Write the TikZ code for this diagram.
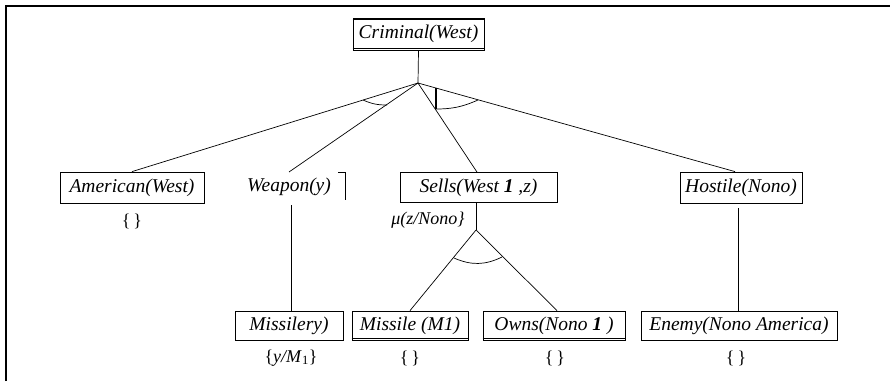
\documentclass[tikz,border=0pt]{standalone}
\usepackage{fontspec}
\setmainfont{Liberation Serif}
\begin{document}
\begin{tikzpicture}[x=1pt,y=-1pt,
  every node/.style={font=\fontsize{19.5}{22}\selectfont\itshape, inner sep=0pt},
  goalbox/.style={draw, line width=0.8pt},
  subst/.style={font=\fontsize{18}{20}\selectfont},
  edge/.style={line width=0.7pt}]
\useasboundingbox (0,0) rectangle (890,381);
% frame
\draw[line width=1.4pt] (6,381) -- (6,6) -- (890,6);
% top goal
\node[goalbox, minimum width=131pt, minimum height=32pt] (crim) at (418.5,34) {Criminal(West)};
\draw[line width=1pt] ([yshift=-2pt]crim.north west) -- ([yshift=-2pt]crim.north east);
\draw[line width=1pt] ([yshift=2pt]crim.south west) -- ([yshift=2pt]crim.south east);
\coordinate (apex) at (418,83);
\draw[edge] (crim.south) -- (apex);
% first-level goals
\node[goalbox, minimum width=144pt, minimum height=31pt] (amer) at (132,187.5) {American(West)};
\node (amers) [subst] at (132,221) {\{\,\}};
\node (weap) at (289,187) {Weapon(y)};
\coordinate (weaptop) at (289,172);
\coordinate (weapbot) at (291,205);
\coordinate (brA) at (338,172);
\coordinate (brB) at (345,172);
\coordinate (brC) at (345,200);
\draw[line width=0.8pt] (brA) -- (brB) -- (brC);
\node[goalbox, minimum width=157pt, minimum height=30pt] (sells) at (478.5,187.5) {Sells(West \textbf{1} ,z)};
\node (sellss) [font=\fontsize{18}{20}\selectfont\itshape] at (428,220) {μ(z/Nono\}};
\node[goalbox, minimum width=122pt, minimum height=31pt] (host) at (741,187.5) {Hostile(Nono)};
% top links
\draw[edge] (apex) -- (amer.north);
\draw[edge] (apex) -- (weaptop);
\draw[edge] (apex) -- ([xshift=-1.5pt]sells.north);
\draw[edge] (apex) -- ([xshift=-6pt]host.north);
% AND arcs
\coordinate (la) at (363,100);
\coordinate (lb) at (387,105);
\coordinate (ra) at (435,109);
\coordinate (rb) at (478,100);
\draw[edge] (la) to[bend right=12] (lb);
\draw[edge] (ra) to[bend right=12] (rb);
\coordinate (barA) at (436,88);
\coordinate (barB) at (436,109);
\draw[line width=2.6pt] (barA) -- (barB);
% second level
\coordinate (sapex) at (476,230);
\draw[edge] ([xshift=-2.5pt]sells.south) -- (sapex);
\node[goalbox, minimum width=108pt, minimum height=29pt] (msly) at (289,325.5) {Missilery)};
\node (mslys) [subst] at (291,358) {\{\textit{y/M}\textsubscript{1}\}};
\node[goalbox, minimum width=116pt, minimum height=29pt] (miss) at (410,325.5) {Missile (M1)};
\draw[line width=1pt] ([yshift=2pt]miss.south west) -- ([yshift=2pt]miss.south east);
\node (misss) [subst] at (410,358) {\{\,\}};
\node[goalbox, minimum width=142pt, minimum height=29pt] (owns) at (554,325.5) {Owns(Nono \textbf{1} )};
\draw[line width=1pt] ([yshift=2pt]owns.south west) -- ([yshift=2pt]owns.south east);
\node (ownss) [subst] at (555,358) {\{\,\}};
\node[goalbox, minimum width=196pt, minimum height=29pt] (enem) at (739,325.5) {Enemy(Nono America)};
\node (enems) [subst] at (736,358) {\{\,\}};
% lower links
\draw[edge] (weapbot) -- ([xshift=2pt]msly.north);
\draw[edge] (sapex) -- (miss.north);
\draw[edge] (sapex) -- ([xshift=3pt]owns.north);
\draw[edge] ([xshift=-3pt,yshift=-5pt]host.south) -- ([xshift=-1pt]enem.north);
\coordinate (sla) at (454,258);
\coordinate (slb) at (502,257);
\draw[edge] (sla) to[bend right=25] (slb);
\end{tikzpicture}
\end{document}
